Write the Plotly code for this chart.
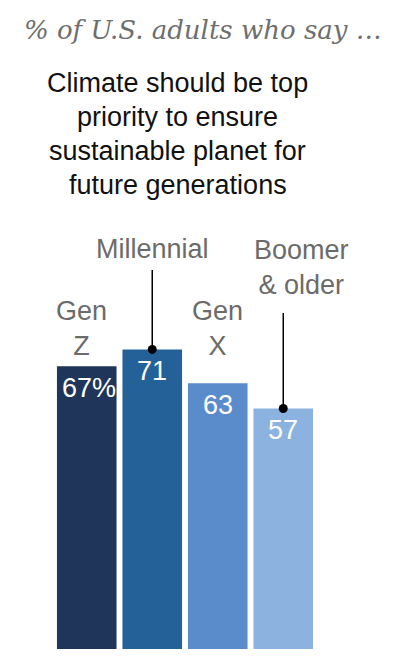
import plotly.graph_objects as go

# ---- data ----
categories = ["Gen Z", "Millennial", "Gen X", "Boomer & older"]
cat_labels = ["Gen<br>Z", "Millennial", "Gen<br>X", "Boomer<br>& older"]
values = [67, 71, 63, 57]
value_labels = ["67%", "71", "63", "57"]
colors = ["#1f365a", "#246198", "#5a8ccb", "#8cb3df"]
subtitle_lines = ["Climate should be top", "priority to ensure",
                  "sustainable planet for", "future generations"]

W, H = 394, 666
M_L, M_R, M_T, M_B = 54, 78, 227, 17
PLOT_H = H - M_T - M_B
PLOT_W = W - M_L - M_R


def ypaper(ypx):
    return (H - M_B - ypx) / PLOT_H


def xpaper(xpx):
    return (xpx - M_L) / PLOT_W


SANS = "Liberation Sans, Arial, sans-serif"
x_idx = list(range(len(categories)))

fig = go.Figure()
fig.add_trace(go.Bar(
    x=x_idx, y=values,
    marker=dict(color=colors, line=dict(width=0)),
    hoverinfo="skip", showlegend=False,
))

# value labels inside bars
for i, (v, t) in enumerate(zip(values, value_labels)):
    fig.add_annotation(x=i, y=v, xref="x", yref="y", text=t, showarrow=False,
                       yanchor="middle", xanchor="center", yshift=-22,
                       xshift=2 if i == 0 else 0,
                       font=dict(family=SANS, size=27, color="white"))

# category labels
label_pos = [(311.5, -5), (249, 0), (311.5, 0), (250, 18)]
for i, (lab, (ypx, xs)) in enumerate(zip(cat_labels, label_pos)):
    fig.add_annotation(x=i, y=ypaper(ypx - 17.5), xref="x", yref="paper", text=lab,
                       showarrow=False, xanchor="center", yanchor="top", xshift=xs,
                       align="center",
                       font=dict(family=SANS, size=27, color="#6b6b6b"))

# leader lines for Millennial and Boomer
leader_top = {1: 270, 3: 313}
for i, ytop in leader_top.items():
    fig.add_shape(type="line", xref="x", yref="paper", x0=i, x1=i,
                  y0=ypaper(ytop), y1=ypaper(H - M_B - values[i] * PLOT_H / 100 + 1),
                  line=dict(color="black", width=1.5))
fig.add_trace(go.Scatter(
    x=list(leader_top.keys()), y=[values[i] for i in leader_top],
    mode="markers", marker=dict(color="black", size=9),
    hoverinfo="skip", showlegend=False,
))

# titles
fig.add_annotation(x=xpaper((22 + 383) / 2), y=ypaper(30), xref="paper", yref="paper",
                   text="<i>% of U.S. adults who say …</i>", showarrow=False,
                   xanchor="center", yanchor="middle",
                   font=dict(family="DejaVu Serif, Georgia, serif", size=26, color="#6e6e6e"))
for k, line in enumerate(subtitle_lines):
    fig.add_annotation(x=xpaper(177.5), y=ypaper(134 + (k - 1.5) * 33.7),
                       xref="paper", yref="paper", text=line, showarrow=False,
                       xanchor="center", yanchor="middle",
                       font=dict(family=SANS, size=27, color="#111111"))

fig.update_layout(
    width=W, height=H,
    margin=dict(l=M_L, r=M_R, t=M_T, b=M_B, pad=0),
    paper_bgcolor="white", plot_bgcolor="white",
    bargap=0.09,
    xaxis=dict(range=[-0.5, 3.5], visible=False, fixedrange=True),
    yaxis=dict(range=[0, 100], visible=False, fixedrange=True),
)

fig.write_html("out.html", config={"displayModeBar": False},
               post_script="document.body.style.margin='0';document.body.style.overflow='hidden';")
